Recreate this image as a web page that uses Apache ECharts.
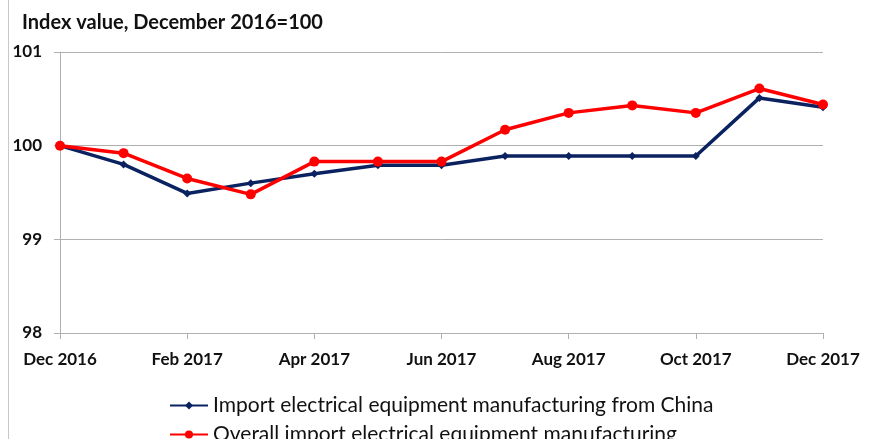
<!DOCTYPE html>
<html>
<head>
<meta charset="utf-8">
<script src="https://cdn.jsdelivr.net/npm/echarts@6/dist/echarts.min.js"></script>
<style>
  html, body { margin: 0; padding: 0; background: #fff; }
  #chart { width: 872px; height: 439px; }
</style>
</head>
<body>
<div id="chart"></div>
<script>
// months on the x axis
var months = ['Dec 2016', 'Jan 2017', 'Feb 2017', 'Mar 2017', 'Apr 2017', 'May 2017', 'Jun 2017',
	'Jul 2017', 'Aug 2017', 'Sep 2017', 'Oct 2017', 'Nov 2017', 'Dec 2017'];
var chinaValues = [100, 99.8, 99.49, 99.6, 99.7, 99.79, 99.79, 99.89, 99.89, 99.89, 99.89, 100.51, 100.41];
var overallValues = [100, 99.92, 99.65, 99.48, 99.83, 99.83, 99.83, 100.17, 100.35, 100.43, 100.35, 100.61, 100.44];
var seriesNames = ['Import electrical equipment manufacturing from China', 'Overall import electrical equipment manufacturing'];

var font = 'Lato';
var legendText = { fontFamily: font, fontSize: 21, color: '#111' };
var myChart = echarts.init(document.getElementById('chart'));
var option = {
	animation: false,
	title: {
		text: 'Index value, December 2016=100',
		left: 17, top: 8,
		textStyle: { fontFamily: font, fontSize: 20, fontWeight: 'bold', color: '#111' }
	},
	// thin frame edge on the left of the picture
	graphic: [{
		type: 'line',
		shape: { x1: 8.5, y1: 0, x2: 8.5, y2: 439 },
		style: { stroke: '#c8c8c8', lineWidth: 1 }
	}],
	grid: { left: 60, right: 49, top: 52, bottom: 106 },
	// one legend per row, like the two stacked rows in the picture
	legend: [{
		left: 164, top: 390,
		itemWidth: 38, itemHeight: 10,
		textStyle: legendText,
		data: [seriesNames[0]]
	}, {
		left: 164, top: 419,
		itemWidth: 38, itemHeight: 10,
		textStyle: legendText,
		data: [seriesNames[1]]
	}],
	xAxis: {
		type: 'category',
		boundaryGap: false,
		data: months,
		axisLine: { lineStyle: { color: '#b0b0b0', width: 1 } },
		axisTick: { show: true, interval: 1, length: 6, lineStyle: { color: '#b0b0b0' } },
		axisLabel: { interval: 1, margin: 18, fontFamily: font, fontSize: 17, fontWeight: 'bold', color: '#111' }
	},
	yAxis: {
		type: 'value',
		min: 98, max: 101, interval: 1,
		axisLine: { show: true, lineStyle: { color: '#b0b0b0' } },
		axisTick: { show: true, length: 6, lineStyle: { color: '#b0b0b0' } },
		splitLine: { lineStyle: { color: '#b0b0b0' } },
		axisLabel: { margin: 18, fontFamily: font, fontSize: 17, fontWeight: 'bold', color: '#111' }
	},
	series: [{
		name: seriesNames[0],
		type: 'line',
		data: chinaValues,
		symbol: 'diamond',
		symbolSize: 8,
		lineStyle: { color: '#0b2260', width: 3.5 },
		itemStyle: { color: '#0b2260' }
	}, {
		name: seriesNames[1],
		type: 'line',
		data: overallValues,
		symbol: 'circle',
		symbolSize: 10,
		lineStyle: { color: '#ff0000', width: 3.5 },
		itemStyle: { color: '#ff0000' }
	}]
};
myChart.setOption(option);
</script>
</body>
</html>
